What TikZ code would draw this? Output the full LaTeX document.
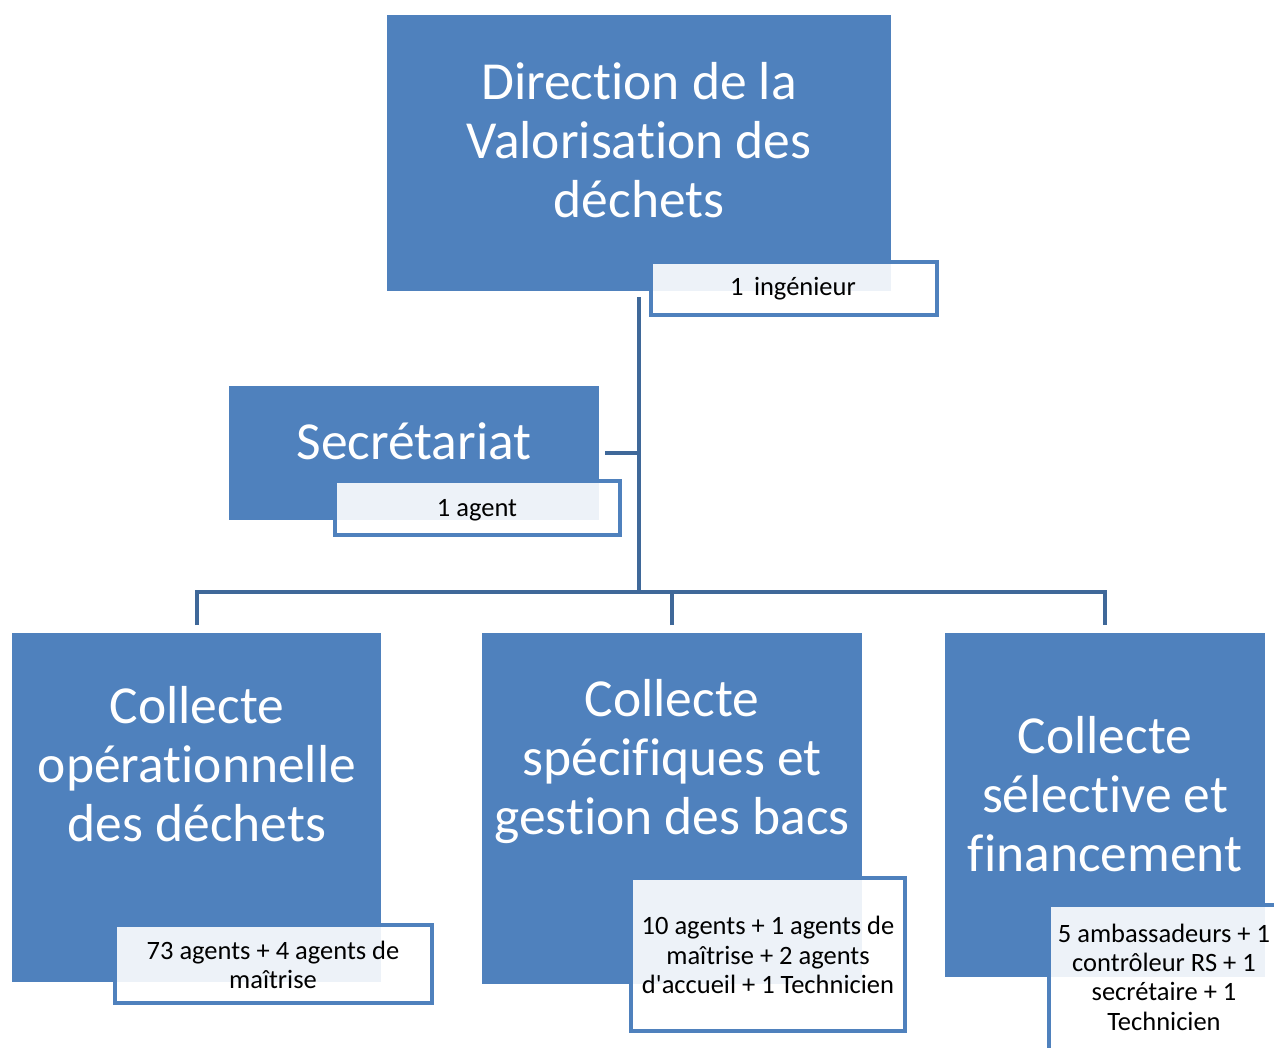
\documentclass[tikz,border=0pt]{standalone}
\usepackage{fontspec}
\setmainfont[Ligatures={NoCommon,TeXOff}]{Carlito}
\definecolor{boxblue}{HTML}{4F81BD}
\definecolor{connblue}{HTML}{3F6899}
\begin{document}
\begin{tikzpicture}[x=1pt,y=-1pt,
  mainbox/.style={fill=boxblue, draw=none, anchor=north west, inner sep=0pt, outer sep=0pt, rectangle},
  subbox/.style={fill=white, fill opacity=0.9, draw=boxblue, draw opacity=1, line width=4pt, anchor=north west, inner sep=0pt, outer sep=0pt, rectangle},
  maintext/.style={text=white, font=\fontsize{53.5}{59}\selectfont, align=center, inner sep=0pt},
  subtext/.style={text=black, font=\fontsize{26.5}{29.3}\selectfont, align=center, inner sep=0pt},
  conn/.style={draw=connblue, line width=4pt}
]
\useasboundingbox (0,0) rectangle (1274,1047);
\fill[white] (0,0) rectangle (1274,1047);
\coordinate (bus) at (0,592);

% top
\node[mainbox, minimum width=504pt, minimum height=276pt] (top) at (387,15) {};
\node[subbox, minimum width=286pt, minimum height=53pt] (topsub) at (651,262) {};
\node[maintext] (toptxt) at (639,140) {Direction de la\\Valorisation des\\déchets};
\node[subtext] (topsubtxt) at (793,289) {1\, ingénieur};

% secretariat
\node[mainbox, minimum width=370pt, minimum height=134pt] (sec) at (229,386) {};
\node[subbox, minimum width=285pt, minimum height=54pt] (secsub) at (335,481) {};
\node[maintext] (sectxt) at (414,441) {Secrétariat};
\node[subtext] (secsubtxt) at (477,510) {1 agent};

% bottom boxes
\node[mainbox, minimum width=369pt, minimum height=349pt] (lbox) at (12,633) {};
\node[subbox, minimum width=317pt, minimum height=78pt] (lsub) at (115,925) {};
\node[maintext] (ltxt) at (197,764) {Collecte\\opérationnelle\\des déchets};
\node[subtext] (lsubtxt) at (273,965) {73 agents + 4 agents de\\maîtrise};

\node[mainbox, minimum width=380pt, minimum height=351pt] (mbox) at (482,633) {};
\node[subbox, minimum width=274pt, minimum height=153pt] (msub) at (631,878) {};
\node[maintext] (mtxt) at (672,762) {Collecte\\spécifiques et\\gestion des bacs};
\node[subtext] (msubtxt) at (768,955) {10 agents + 1 agents de\\maîtrise + 2 agents\\d'accueil + 1 Technicien};

\node[mainbox, minimum width=320pt, minimum height=344pt] (rbox) at (945,633) {};
\node[subbox, minimum width=260pt, minimum height=180pt] (rsub) at (1049,905) {};
\node[maintext] (rtxt) at (1105,794) {Collecte\\sélective et\\financement};
\node[subtext] (rsubtxt) at (1164,977) {5 ambassadeurs + 1\\contrôleur RS + 1\\secrétaire + 1\\Technicien};

% connectors
\draw[conn] ([yshift=-6pt]top.south) -- (top.south |- bus);
\draw[conn] ([xshift=6pt]sec.east) -- (sec.east -| top.south);
\draw[conn] ([yshift=8pt]lbox.north) -- (lbox.north |- bus) -- (rbox.north |- bus) -- ([yshift=8pt]rbox.north);
\draw[conn] ([yshift=8pt]mbox.north) -- (mbox.north |- bus);
\end{tikzpicture}
\end{document}
